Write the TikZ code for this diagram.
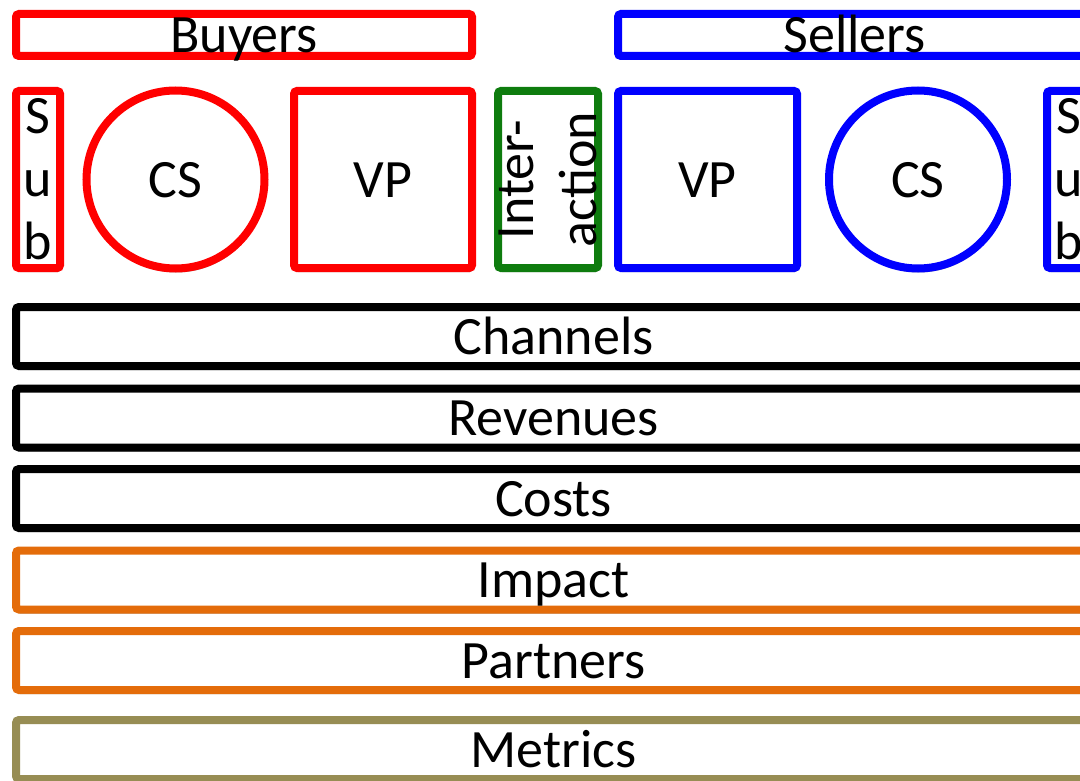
\documentclass[tikz,border=0pt]{standalone}
\usepackage{fontspec}
\setmainfont{Carlito}
\usepackage{tikz}
\usetikzlibrary{shapes, shadows, positioning}
\definecolor{buyred}{HTML}{FF0000}
\definecolor{sellblue}{HTML}{0000FF}
\definecolor{actgreen}{HTML}{0E7C0E}
\definecolor{imporange}{HTML}{E46C0A}
\definecolor{metolive}{HTML}{978D54}

\begin{document}
\begin{tikzpicture}[x=1pt, y=-1pt,
    every node/.style={font=\fontsize{54}{63}\selectfont, inner sep=0pt, line width=8pt},
    shade/.style={fill=white, drop shadow={shadow xshift=1pt, shadow yshift=-4pt, opacity=0.35, fill=black}},
    box/.style={draw, rectangle, rounded corners=3pt, shade},
    oneline/.style={box, text height=38pt, text depth=3pt},
    bar/.style={oneline, minimum width=1075pt, minimum height=59pt},
    cust/.style={draw, circle, minimum size=178pt, shade, text height=38pt, text depth=3pt},
    sq/.style={oneline, minimum width=178pt, minimum height=177pt},
    subbox/.style={box, align=center, minimum width=44pt, minimum height=177pt}]

            \clip (0,0) rectangle (1080,781);

            % Hai nhom tren cung
            \node[oneline, draw=buyred, minimum width=456pt, minimum height=42pt] (buyers) at (244,35) {Buyers};
            \node[oneline, draw=sellblue, minimum width=473pt, minimum height=42pt] (sellers) at (854.5,35) {Sellers};

            % Ben mua
            \node[subbox, draw=buyred] (subbuy) at (38,179.5) {S\\u\\b};
            \node[cust, draw=buyred] (csbuy) at (175.5,179.5) {CS};
            \node[sq, draw=buyred] (vpbuy) at (383,179.5) {VP};

            % Tuong tac
            \node[box, draw=actgreen, rotate=90, align=center, minimum width=177pt, minimum height=100pt] (inter) at (548,179.5) {Inter-\\action};

            % Ben ban
            \node[sq, draw=sellblue, minimum width=179pt] (vpsell) at (707.5,179.5) {VP};
            \node[cust, draw=sellblue] (cssell) at (918,179.5) {CS};
            \node[subbox, draw=sellblue] (subsell) at (1069,179.5) {S\\u\\b};

            % Cac thanh ngang
            \node[bar, draw=black] (channels) at (553.5,336.5) {Channels};
            \node[bar, draw=black] (revenues) at (553.5,418) {Revenues};
            \node[bar, draw=black] (costs) at (553.5,498.5) {Costs};
            \node[bar, draw=imporange] (impact) at (553.5,580) {Impact};
            \node[bar, draw=imporange] (partners) at (553.5,660.5) {Partners};
            \node[bar, draw=metolive] (metrics) at (553.5,749.5) {Metrics};

\end{tikzpicture}
\end{document}
